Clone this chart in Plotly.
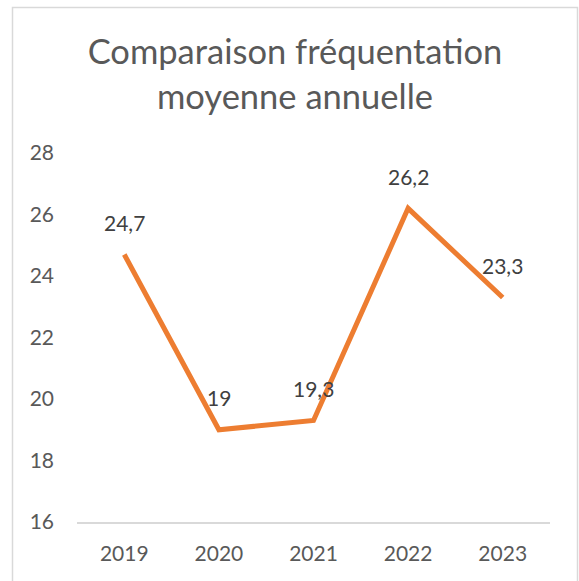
import plotly.graph_objects as go

years = ["2019", "2020", "2021", "2022", "2023"]
values = [24.7, 19.0, 19.3, 26.2, 23.3]
value_labels = ["24,7", "19", "19,3", "26,2", "23,3"]
y_ticks = [16, 18, 20, 22, 24, 26, 28]

W, H = 579, 581
L, R = 77, 550
T, B = 153, 522

fig = go.Figure()
fig.add_trace(go.Scatter(
    x=years, y=values, mode="lines",
    line=dict(color="#ED7D31", width=5),
    hoverinfo="skip", showlegend=False,
))

for i, (v, lab) in enumerate(zip(values, value_labels)):
    fig.add_annotation(
        x=i, y=v, xref="x", yref="y", text=lab, showarrow=False,
        yshift=32, font=dict(family="Lato", size=21, color="#404040"),
    )

def px_to_paper_x(px):
    return (px - L) / (R - L)

def px_to_paper_y(py):
    return (B - py) / (B - T)

fig.add_shape(
    type="rect", xref="paper", yref="paper",
    x0=px_to_paper_x(12.5), x1=px_to_paper_x(577.5),
    y0=px_to_paper_y(600), y1=px_to_paper_y(7.5),
    line=dict(color="#D9D9D9", width=1.5), fillcolor="rgba(0,0,0,0)",
    layer="below",
)

fig.update_layout(
    width=W, height=H,
    margin=dict(l=L, r=W - R, t=T, b=H - B, pad=0),
    paper_bgcolor="white", plot_bgcolor="white",
    title=dict(
        text="Comparaison fréquentation<br>moyenne annuelle",
        x=295 / W, xanchor="center", xref="container",
        y=1 - 64 / H, yanchor="top", yref="container",
        font=dict(family="Lato", size=34.5, color="#595959"),
    ),
    xaxis=dict(
        type="category", categoryorder="array", categoryarray=years,
        range=[-0.5, 4.5], showgrid=False, zeroline=False,
        showline=True, linecolor="#D9D9D9", linewidth=1.5,
        ticks="", ticklabelstandoff=12,
        tickfont=dict(family="Lato", size=21, color="#595959"),
    ),
    yaxis=dict(
        range=[16, 28], tickvals=y_ticks, showgrid=False, zeroline=False,
        showline=False, ticks="", ticklabelstandoff=22,
        tickfont=dict(family="Lato", size=21, color="#595959"),
    ),
)

fig.write_html(
    "out.html",
    config={"displayModeBar": False},
    post_script="document.body.style.margin='0';document.body.style.overflow='hidden';",
)
